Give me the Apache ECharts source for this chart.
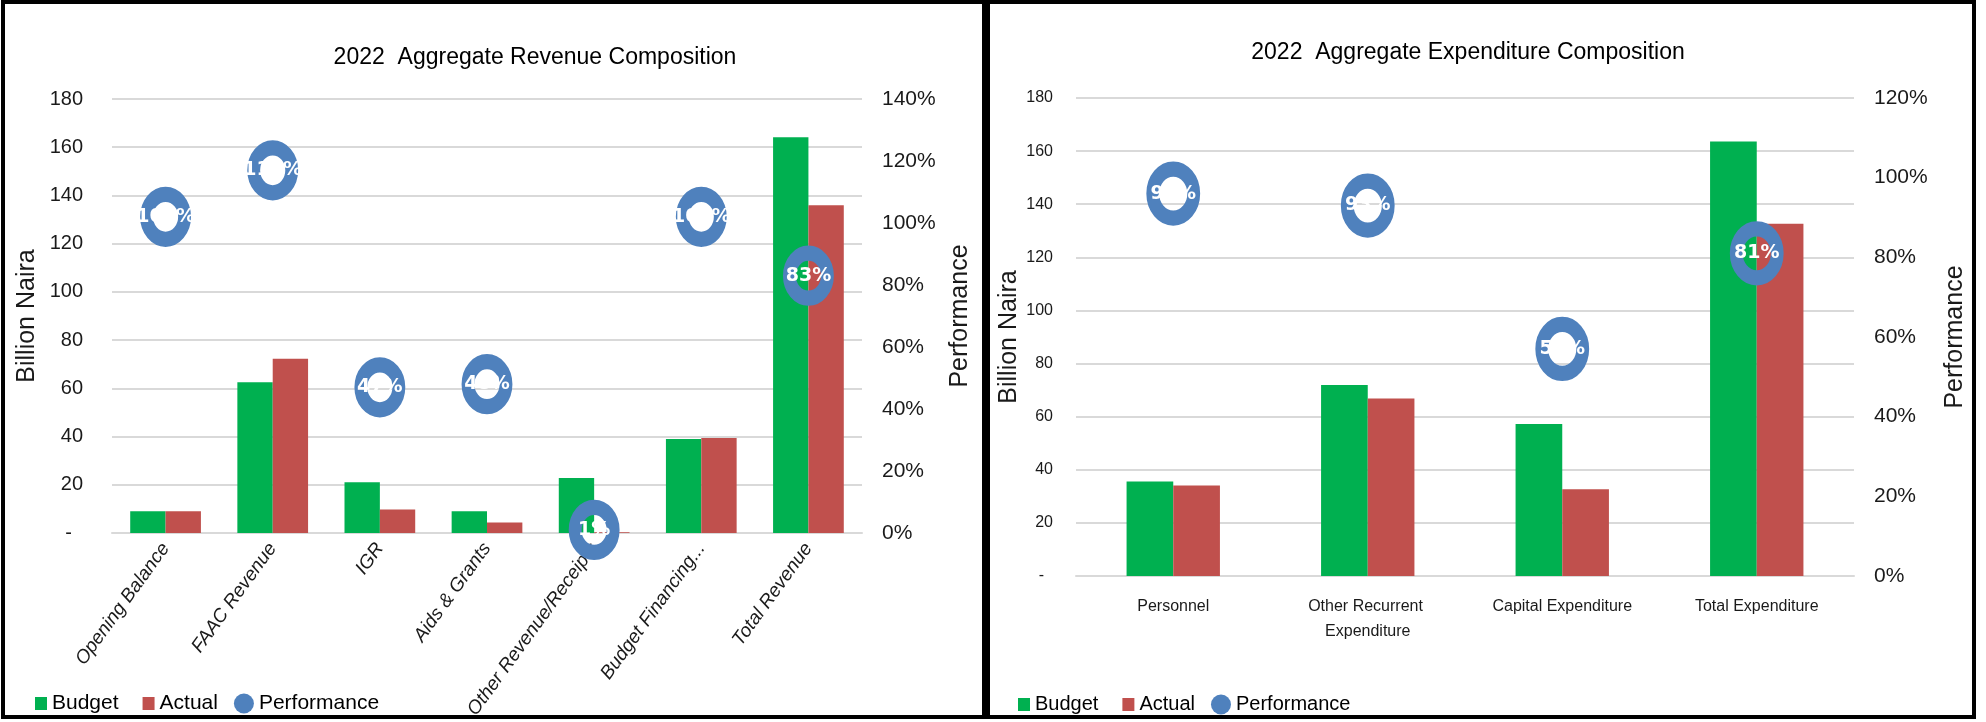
<!DOCTYPE html>
<html><head><meta charset="utf-8">
<script src="https://cdn.jsdelivr.net/npm/echarts@6/dist/echarts.min.js"></script>
<style>html,body{margin:0;padding:0;background:#fff}#c{width:1986px;height:722px}</style>
</head><body><div id="c"></div>
<script>
// ---- Revenue chart data ----
const revCategories = ['Opening Balance', 'FAAC Revenue', 'IGR', 'Aids & Grants', 'Other Revenue/Receipts', 'Budget Financing...', 'Total Revenue'];
const revBudget = [9.0, 62.5, 21.0, 9.0, 22.8, 39.0, 164.1];
const revActual = [9.0, 72.3, 9.7, 4.4, 0.3, 39.4, 135.9];
const revPerformance = [102, 117, 47, 48, 1, 102, 83];

// ---- Expenditure chart data ----
const expCategories = ['Personnel', 'Other Recurrent Expenditure', 'Capital Expenditure', 'Total Expenditure'];
const expBudget = [35.6, 71.9, 57.2, 163.6];
const expActual = [34.1, 66.8, 32.7, 132.6];
const expPerformance = [96, 93, 57, 81];

// ---- Axis settings ----
const leftAxisMax = 180, leftAxisStep = 20;
const revPctMax = 140, expPctMax = 120, pctStep = 20;

const FONT = "'Liberation Sans', Arial, sans-serif";
const GREEN = '#00B050', RED = '#C0504D', BLUE = '#4F81BD', GRIDC = '#D9D9D9', TXT = '#1a1a1a';
const squareIcon = 'path://M0,0M20,21M8,4h12v13h-12z';

const chart = echarts.init(document.getElementById('c'), null, {renderer: 'canvas'});

function legendData() {
  return [
    {name: 'Budget', icon: squareIcon, itemStyle: {color: GREEN}},
    {name: 'Actual', icon: squareIcon, itemStyle: {color: RED}},
    {name: 'Performance', icon: 'circle', itemStyle: {color: BLUE, borderWidth: 0, opacity: 1}}
  ];
}

function perfSeries(xi, yi, data, size) {
  return {
    type: 'scatter', name: 'Performance', xAxisIndex: xi, yAxisIndex: yi, data: data,
    symbol: 'circle', symbolSize: size, clip: false, z: 5,
    itemStyle: {color: 'rgba(0,0,0,0)', borderColor: BLUE, borderWidth: 14, opacity: 1},
    label: {show: true, position: 'inside', formatter: p => p.value + '%', color: '#fff',
      fontWeight: 'bold', fontSize: 19, fontFamily: "'DejaVu Sans', sans-serif"},
    emphasis: {disabled: true}
  };
}

const option = {
  animation: false,
  backgroundColor: '#fff',
  textStyle: {fontFamily: FONT},
  title: [
    {text: '2022  Aggregate Revenue Composition', left: 530, top: 41, textAlign: 'center',
     textStyle: {fontSize: 23, fontWeight: 'normal', color: '#000', fontFamily: FONT}},
    {text: '2022  Aggregate Expenditure Composition', left: 1463, top: 36, textAlign: 'center',
     textStyle: {fontSize: 23, fontWeight: 'normal', color: '#000', fontFamily: FONT}}
  ],
  legend: [
    {data: legendData(), left: 22, top: 688, itemWidth: 20, itemHeight: 21, itemGap: 16,
     textStyle: {fontSize: 21, color: '#000', fontFamily: FONT}, selectedMode: false},
    {data: legendData(), left: 1005, top: 689, itemWidth: 20, itemHeight: 21, itemGap: 16,
     textStyle: {fontSize: 20, color: '#000', fontFamily: FONT}, selectedMode: false}
  ],
  grid: [
    {left: 112, right: 1986 - 862, top: 99, bottom: 722 - 533},
    {left: 1076, right: 1986 - 1854, top: 98, bottom: 722 - 576}
  ],
  xAxis: [
    {gridIndex: 0, type: 'category', data: revCategories,
     axisLine: {lineStyle: {color: GRIDC, width: 2}}, axisTick: {show: false},
     axisLabel: {interval: 0, rotate: 54, fontSize: 19, fontStyle: 'italic', color: TXT, margin: 12, fontFamily: FONT}},
    {gridIndex: 1, type: 'category', data: expCategories,
     axisLine: {lineStyle: {color: GRIDC, width: 2}}, axisTick: {show: false},
     axisLabel: {interval: 0, fontSize: 16, color: TXT, margin: 18, width: 150, overflow: 'break', lineHeight: 25, fontFamily: FONT}}
  ],
  yAxis: [
    {gridIndex: 0, type: 'value', min: 0, max: leftAxisMax, interval: leftAxisStep, position: 'left',
     axisLine: {show: false}, axisTick: {show: false},
     axisLabel: {fontSize: 20, color: TXT, margin: 29, formatter: v => v === 0 ? '-  ' : String(v)},
     splitLine: {lineStyle: {color: GRIDC, width: 2}},
     name: 'Billion Naira', nameLocation: 'middle', nameGap: 72,
     nameTextStyle: {fontSize: 25, color: TXT, fontFamily: FONT}},
    {gridIndex: 0, type: 'value', min: 0, max: revPctMax, interval: pctStep, position: 'right',
     axisLine: {show: false}, axisTick: {show: false}, splitLine: {show: false},
     axisLabel: {fontSize: 21, color: TXT, margin: 20, formatter: '{value}%'},
     name: 'Performance', nameLocation: 'middle', nameGap: 86,
     nameTextStyle: {fontSize: 25, color: TXT, fontFamily: FONT}},
    {gridIndex: 1, type: 'value', min: 0, max: leftAxisMax, interval: leftAxisStep, position: 'left',
     axisLine: {show: false}, axisTick: {show: false},
     axisLabel: {fontSize: 16, color: TXT, margin: 23, formatter: v => v === 0 ? '-  ' : String(v)},
     splitLine: {lineStyle: {color: GRIDC, width: 2}},
     name: 'Billion Naira', nameLocation: 'middle', nameGap: 54,
     nameTextStyle: {fontSize: 25, color: TXT, fontFamily: FONT}},
    {gridIndex: 1, type: 'value', min: 0, max: expPctMax, interval: pctStep, position: 'right',
     axisLine: {show: false}, axisTick: {show: false}, splitLine: {show: false},
     axisLabel: {fontSize: 21, color: TXT, margin: 20, formatter: '{value}%'},
     name: 'Performance', nameLocation: 'middle', nameGap: 89,
     nameTextStyle: {fontSize: 25, color: TXT, fontFamily: FONT}}
  ],
  series: [
    {type: 'bar', name: 'Budget', xAxisIndex: 0, yAxisIndex: 0, data: revBudget,
     barGap: '0%', barCategoryGap: '34%', itemStyle: {color: GREEN}, emphasis: {disabled: true}},
    {type: 'bar', name: 'Actual', xAxisIndex: 0, yAxisIndex: 0, data: revActual,
     barGap: '0%', barCategoryGap: '34%', itemStyle: {color: RED}, emphasis: {disabled: true}},
    perfSeries(0, 1, revPerformance, [38, 45]),
    {type: 'bar', name: 'Budget', xAxisIndex: 1, yAxisIndex: 2, data: expBudget,
     barGap: '0%', barCategoryGap: '52%', itemStyle: {color: GREEN}, emphasis: {disabled: true}},
    {type: 'bar', name: 'Actual', xAxisIndex: 1, yAxisIndex: 2, data: expActual,
     barGap: '0%', barCategoryGap: '52%', itemStyle: {color: RED}, emphasis: {disabled: true}},
    perfSeries(1, 3, expPerformance, [41, 49])
  ],
  graphic: [
    {type: 'rect', silent: true, z: 100, shape: {x: 3, y: 2, width: 981, height: 715},
     style: {fill: 'none', stroke: '#000', lineWidth: 4}},
    {type: 'rect', silent: true, z: 100, shape: {x: 988, y: 2, width: 986, height: 715},
     style: {fill: 'none', stroke: '#000', lineWidth: 4}}
  ]
};
chart.setOption(option);
</script>
</body></html>
